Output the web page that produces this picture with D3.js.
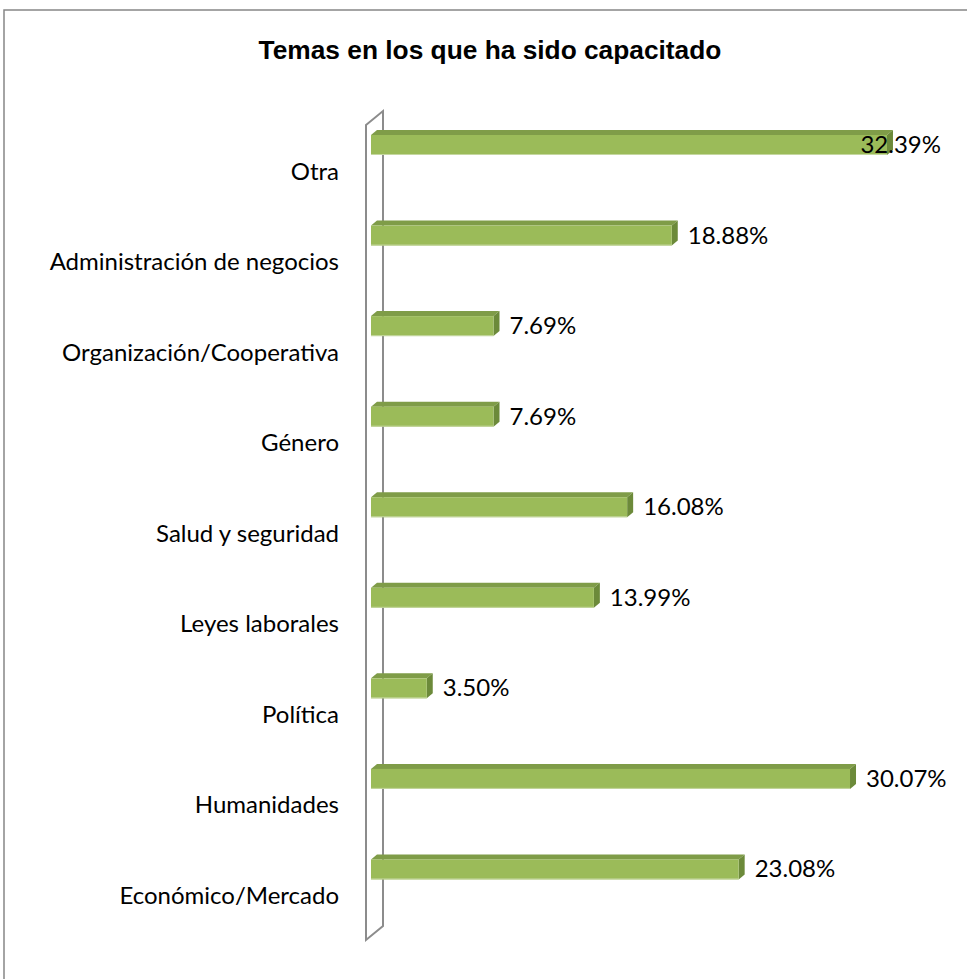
<!DOCTYPE html>
<html><head><meta charset="utf-8">
<script src="https://cdn.jsdelivr.net/npm/d3@7"></script>
<style>body{margin:0;background:#fff}svg{display:block}</style>
</head><body>
<svg id="c" width="967" height="979"></svg>
<script>
const categories = ["Otra","Administración de negocios","Organización/Cooperativa","Género","Salud y seguridad","Leyes laborales","Política","Humanidades","Económico/Mercado"];
const values = [32.39, 18.88, 7.69, 7.69, 16.08, 13.99, 3.50, 30.07, 23.08];
const valueLabels = ["32.39%","18.88%","7.69%","7.69%","16.08%","13.99%","3.50%","30.07%","23.08%"];
const title = "Temas en los que ha sido capacitado";

const svg = d3.select("#c");
const font = "Lato, 'Noto Sans', sans-serif";

svg.append("rect").attr("x",4).attr("y",10).attr("width",980).attr("height",990)
  .attr("fill","#fff").attr("stroke","#878787").attr("stroke-width",1.5);

svg.append("text").attr("x",490).attr("y",59).attr("text-anchor","middle")
  .attr("font-family","'Liberation Sans', Arial, sans-serif").attr("font-weight","bold")
  .attr("font-size",26.3).attr("fill","#000").text(title);

const x = d3.scaleLinear().domain([0,35]).range([371, 371 + 35*15.93]);
const y = d3.scaleBand().domain(categories).range([125, 940]);

const wx0 = 366, wx1 = 383, wdy = 14;
svg.append("path")
  .attr("d", `M${wx0},125 L${wx1},${125-wdy} L${wx1},${940-wdy} L${wx0},940 Z`)
  .attr("fill","#fff").attr("stroke","#8c8c8c").attr("stroke-width",2).attr("stroke-linejoin","miter");

const dx = 6, dy = 5, h = 20;
const g = svg.append("g");
categories.forEach((c,i) => {
  const x0 = x(0), x1 = x(values[i]);
  const yt = y(c) + 10;
  g.append("path").attr("d",`M${x0},${yt} L${x0+dx},${yt-dy} L${x1+dx},${yt-dy} L${x1},${yt} Z`)
    .attr("fill","#7f9c48");
  g.append("path").attr("d",`M${x1},${yt} L${x1+dx},${yt-dy} L${x1+dx},${yt+h-dy} L${x1},${yt+h} Z`)
    .attr("fill","#6c8a3a");
  g.append("rect").attr("x",x0).attr("y",yt).attr("width",x1-x0).attr("height",h)
    .attr("fill","#9bbb59");
  g.append("line").attr("x1",x0).attr("x2",x1).attr("y1",yt+h-0.5).attr("y2",yt+h-0.5)
    .attr("stroke","#c5d7a0").attr("stroke-width",1);

  const t = svg.append("text").attr("y", yt + h/2 + 8).attr("font-family",font)
    .attr("font-size",24).attr("fill","#000").text(valueLabels[i]);
  const w = t.node().getComputedTextLength();
  let lx = x1 + dx + 10;
  if (lx + w > 948) lx = 941 - w;
  t.attr("x", lx);

  svg.append("text").attr("x",339).attr("y", y(c) + 46 + 8.5).attr("text-anchor","end")
    .attr("font-family",font).attr("font-size",24).attr("fill","#000").text(c);
});
</script>
</body></html>
